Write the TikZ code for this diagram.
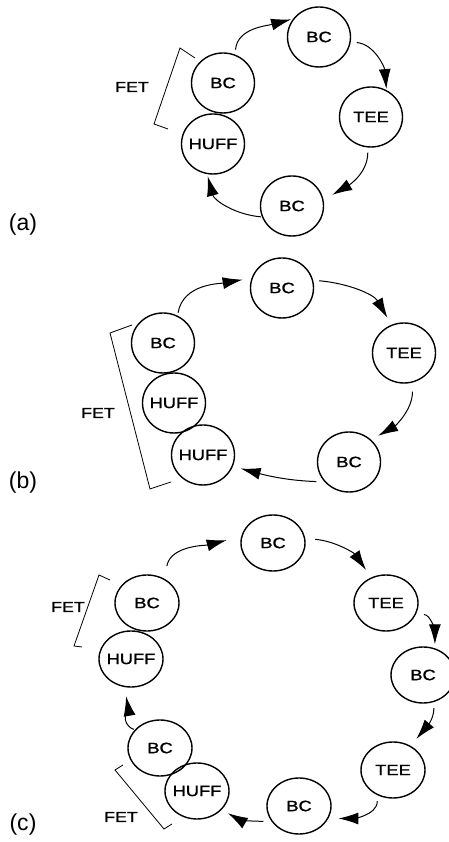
\documentclass[tikz,border=0pt]{standalone}
\usepackage{fontspec}
\setmainfont{Liberation Sans}
\newfontfamily\unitfont[FakeStretch=1.22,FakeBold=1.2]{Liberation Sans}
\usetikzlibrary{arrows.meta,shapes.geometric}
\tikzset{
  unit/.style={draw,ellipse,line width=1.4pt,minimum width=63pt,minimum height=60pt,
    inner xsep=-8pt,inner ysep=0pt,font=\unitfont\fontsize{15}{17}\selectfont},
  flat/.style={minimum width=64pt,minimum height=56pt},
  flow/.style={->,line width=1pt},
  fetbr/.style={line width=0.8pt},
  fetlbl/.style={font=\unitfont\fontsize{14.5}{16}\selectfont},
  panel/.style={font=\fontsize{23}{26}\selectfont}
}
\begin{document}
\begin{tikzpicture}[x=1pt,y=1pt,>={Latex[length=20pt,width=12pt]}]
\useasboundingbox (0,0) rectangle (449,842);
% (a)
\node[unit] (a1) at (319,805) {BC};
\node[unit] (a2) at (371,725) {TEE};
\node[unit] (a3) at (292,636) {BC};
\node[unit] (a4) at (213,698) {HUFF};
\node[unit] (a5) at (223,759) {BC};
\draw[flow,shorten <=5pt,shorten >=2pt] (a5.67) to[out=85,in=195] (a1.145);
\draw[flow,shorten <=6pt,shorten >=1pt] (a1.-9) to[out=-5,in=95] (a2.60);
\draw[flow,shorten <=5pt,shorten >=10pt] (a2.-96) to[out=-90,in=30] (a3.11);
\draw[flow,shorten <=1pt,shorten >=2pt] (a3.-160) to[out=175,in=-75] (a4.-101);
\draw[fetbr] (195,784)--(180,794)--(154,718)--(168,713);
\node[fetlbl] (afet) at (132,755) {FET};
\node[panel] (alab) at (23,617) {(a)};
% (b)
\node[unit] (b1) at (282,554) {BC};
\node[unit] (b2) at (404,489) {TEE};
\node[unit] (b3) at (349,380) {BC};
\node[unit] (b4) at (203,387) {HUFF};
\node[unit] (b5) at (174,439) {HUFF};
\node[unit] (b6) at (163,499) {BC};
\draw[flow,shorten <=3pt,shorten >=9pt] (b6.62) to[out=80,in=190] (b1.162);
\draw[flow,shorten <=6pt,shorten >=8pt] (b1.14) to[out=-5,in=120] (b2.114);
\draw[flow,shorten <=9pt,shorten >=8pt] (b2.-74) to[out=-90,in=30] (b3.45);
\draw[flow,shorten <=8pt,shorten >=8pt] (b3.-141) to[out=178,in=-15] (b4.-21);
\draw[fetbr] (132,517)--(110,509)--(150,353)--(171,360);
\node[fetlbl] (bfet) at (98,429) {FET};
\node[panel] (blab) at (23,359) {(b)};
% (c)
\node[unit,flat] (c1) at (273,299) {BC};
\node[unit,flat] (c2) at (386,239) {TEE};
\node[unit,flat] (c3) at (423,167) {BC};
\node[unit,flat] (c4) at (393,72) {TEE};
\node[unit,flat] (c5) at (299,36) {BC};
\node[unit,flat] (c6) at (197,51) {HUFF};
\node[unit,flat] (c7) at (160,94) {BC};
\node[unit,flat] (c8) at (131,183) {HUFF};
\node[unit,flat] (c9) at (147,239) {BC};
\draw[flow,shorten <=13pt,shorten >=15pt] (c9.54) to[out=80,in=195] (c1.168);
\draw[flow,shorten <=10pt,shorten >=9pt] (c1.8) to[out=-5,in=125] (c2.120);
\draw[flow,shorten <=8pt,shorten >=4pt] (c2.-21) to[out=0,in=90] (c3.66);
\draw[flow,shorten <=6pt,shorten >=9pt] (c3.-68) to[out=-90,in=50] (c4.54);
\draw[flow,shorten <=6pt,shorten >=10pt] (c4.-122) to[out=-90,in=0] (c5.-23);
\draw[flow,shorten <=8pt,shorten >=7pt] (c5.-151) to[out=180,in=-30] (c6.-37);
\draw[flow,shorten <=1pt,shorten >=9pt] (c7.144) to[out=160,in=-80] (c8.-103);
\draw[fetbr] (110,262)--(99,267)--(74,196)--(82,195);
\draw[fetbr] (123,77)--(115,72)--(164,13)--(172,18);
\node[fetlbl] (cfet1) at (68,235) {FET};
\node[fetlbl] (cfet2) at (121,25) {FET};
\node[panel] (clab) at (23,17) {(c)};
\end{tikzpicture}
\end{document}
